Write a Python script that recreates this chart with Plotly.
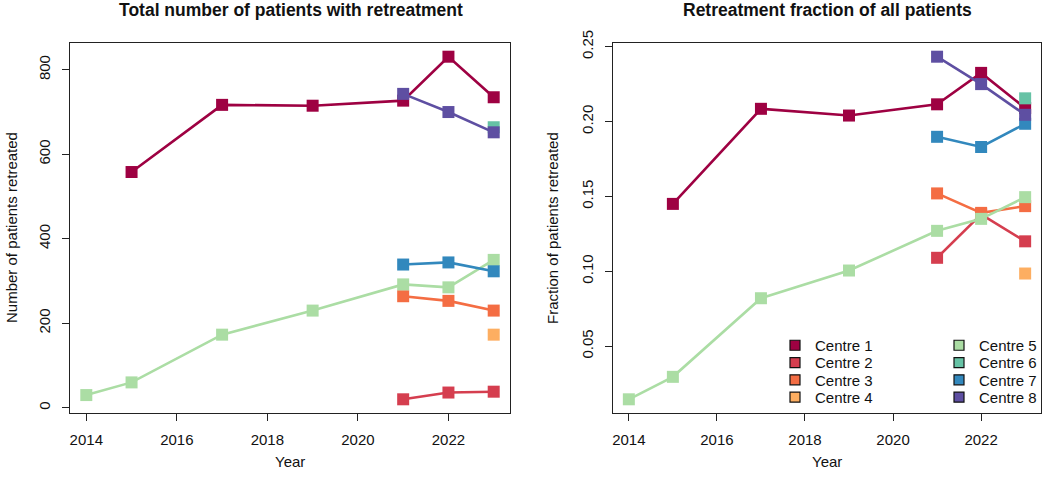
import plotly.graph_objects as go

W, H = 1043, 484

centres = ["Centre 1", "Centre 2", "Centre 3", "Centre 4",
           "Centre 5", "Centre 6", "Centre 7", "Centre 8"]
colours = ["#9E0142", "#D53E4F", "#F46D43", "#FDAE61",
           "#ABDDA4", "#66C2A5", "#3288BD", "#5E4FA2"]

years_c1 = [2015, 2017, 2019, 2021, 2022, 2023]
years_c2 = [2021, 2022, 2023]
years_c3 = [2021, 2022, 2023]
years_c4 = [2023]
years_c5 = [2014, 2015, 2017, 2019, 2021, 2022, 2023]
years_c6 = [2023]
years_c7 = [2021, 2022, 2023]
years_c8 = [2021, 2022, 2023]

count_c1 = [558, 717, 715, 727, 831, 735]
count_c2 = [20, 36, 38]
count_c3 = [264, 253, 230]
count_c4 = [173]
count_c5 = [30, 60, 173, 230, 292, 285, 350]
count_c6 = [664]
count_c7 = [339, 344, 323]
count_c8 = [743, 700, 652]

frac_c1 = [0.145, 0.2085, 0.204, 0.2115, 0.2325, 0.209]
frac_c2 = [0.109, 0.138, 0.120]
frac_c3 = [0.152, 0.139, 0.1435]
frac_c4 = [0.0985]
frac_c5 = [0.0145, 0.0295, 0.082, 0.1005, 0.127, 0.135, 0.1495]
frac_c6 = [0.2155]
frac_c7 = [0.1898, 0.183, 0.1985]
frac_c8 = [0.2433, 0.225, 0.2045]

years = [years_c1, years_c2, years_c3, years_c4, years_c5, years_c6, years_c7, years_c8]
counts = [count_c1, count_c2, count_c3, count_c4, count_c5, count_c6, count_c7, count_c8]
fracs = [frac_c1, frac_c2, frac_c3, frac_c4, frac_c5, frac_c6, frac_c7, frac_c8]

x_ticks = [2014, 2016, 2018, 2020, 2022]
count_ticks = [0, 200, 400, 600, 800]
frac_ticks = [0.05, 0.10, 0.15, 0.20, 0.25]
frac_ticktext = ["0.05", "0.10", "0.15", "0.20", "0.25"]

FONT = "Liberation Sans, Arial, Helvetica, sans-serif"
FS = 15


def px_x(x):
    return x / W


def px_y(y):
    return 1 - y / H


def padded(vals):
    lo, hi = min(vals), max(vals)
    d = (hi - lo) * 0.04
    return [lo - d, hi + d]


all_years = [v for ys in years for v in ys]
all_counts = [v for cs in counts for v in cs]
all_fracs = [v for fs in fracs for v in fs]

fig = go.Figure()

for i in range(8):
    for xa, ya, vals in (("x", "y", counts[i]), ("x2", "y2", fracs[i])):
        fig.add_trace(go.Scatter(
            x=years[i], y=vals, xaxis=xa, yaxis=ya,
            mode="lines+markers",
            line=dict(color=colours[i], width=2.6),
            marker=dict(symbol="square", size=12, color=colours[i],
                        line=dict(width=0)),
            showlegend=False, hoverinfo="x+y", name=centres[i]))

# legend entries: one small legend per entry, arranged in two columns
legend_keys = ["legend"] + ["legend%d" % k for k in range(2, 9)]
for i in range(8):
    fig.add_trace(go.Scatter(
        x=[None], y=[None], xaxis="x2", yaxis="y2", mode="markers",
        marker=dict(symbol="square", size=10, color=colours[i],
                    line=dict(color="#111", width=1.2)),
        name=centres[i], showlegend=True, legend=legend_keys[i]))

axis_common = dict(
    showline=True, mirror=True, linecolor="#222", linewidth=1,
    ticks="outside", ticklen=7, tickcolor="#222", tickwidth=1,
    showgrid=False, zeroline=False,
    tickfont=dict(family=FONT, size=FS, color="#111"),
    automargin=False,
)

box_top, box_bot = 43, 413
ydom = [px_y(box_bot), px_y(box_top)]

layout = dict(
    width=W, height=H,
    margin=dict(l=0, r=0, t=0, b=0),
    paper_bgcolor="white", plot_bgcolor="white",
    font=dict(family=FONT, color="#111"),
    xaxis=dict(domain=[px_x(70), px_x(510)], range=padded(all_years),
               tickvals=x_ticks, anchor="y", ticklabelstandoff=6, **axis_common),
    yaxis=dict(domain=ydom, range=padded(all_counts), tickvals=count_ticks,
               tickangle=-90, anchor="x", ticklabelstandoff=6, **axis_common),
    xaxis2=dict(domain=[px_x(613), px_x(1041)], range=padded(all_years),
                tickvals=x_ticks, anchor="y2", ticklabelstandoff=6, **axis_common),
    yaxis2=dict(domain=ydom, range=padded(all_fracs), tickvals=frac_ticks,
                ticktext=frac_ticktext, tickangle=-90, anchor="x2",
                ticklabelstandoff=6, **axis_common),
)

row_step = 17.3
first_row_top = 329
for i in range(8):
    col, row = divmod(i, 4)
    left = 775 if col == 0 else 939
    top = first_row_top + row * row_step
    layout[legend_keys[i]] = dict(
        x=px_x(left), y=px_y(top), xanchor="left", yanchor="top",
        bgcolor="rgba(0,0,0,0)", borderwidth=0,
        font=dict(family=FONT, size=FS, color="#111"),
        itemclick=False, itemdoubleclick=False)

fig.update_layout(**layout)

ann = []
ann.append(dict(text="<b>Total number of patients with retreatment</b>",
                x=px_x(291), y=px_y(10), xref="paper", yref="paper",
                showarrow=False, font=dict(family=FONT, size=17.5, color="#111"),
                xanchor="center", yanchor="middle"))
ann.append(dict(text="<b>Retreatment fraction of all patients</b>",
                x=px_x(827), y=px_y(10), xref="paper", yref="paper",
                showarrow=False, font=dict(family=FONT, size=17.5, color="#111"),
                xanchor="center", yanchor="middle"))
ann.append(dict(text="Year", x=px_x(290), y=px_y(461), xref="paper", yref="paper",
                showarrow=False, font=dict(family=FONT, size=FS, color="#111"),
                xanchor="center", yanchor="middle"))
ann.append(dict(text="Year", x=px_x(827), y=px_y(461), xref="paper", yref="paper",
                showarrow=False, font=dict(family=FONT, size=FS, color="#111"),
                xanchor="center", yanchor="middle"))
ann.append(dict(text="Number of patients retreated", x=px_x(11), y=px_y(228),
                xref="paper", yref="paper", showarrow=False, textangle=-90,
                font=dict(family=FONT, size=FS, color="#111"),
                xanchor="center", yanchor="middle"))
ann.append(dict(text="Fraction of patients retreated", x=px_x(552), y=px_y(228),
                xref="paper", yref="paper", showarrow=False, textangle=-90,
                font=dict(family=FONT, size=FS, color="#111"),
                xanchor="center", yanchor="middle"))
fig.update_layout(annotations=ann)

fig.write_html("out.html")
